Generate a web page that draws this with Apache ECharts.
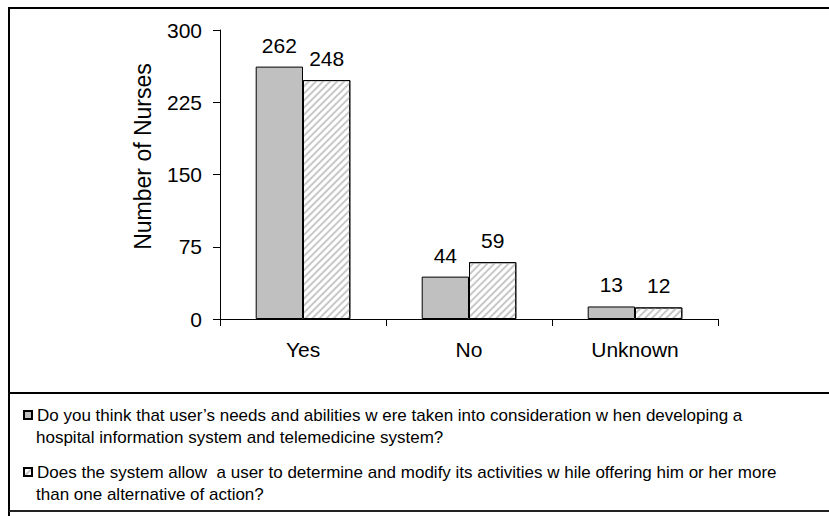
<!DOCTYPE html>
<html>
<head>
<meta charset="utf-8">
<script src="https://cdn.jsdelivr.net/npm/echarts@6/dist/echarts.min.js"></script>
<style>
html,body{margin:0;padding:0;background:#fff;}
#chart{width:829px;height:516px;}
</style>
</head>
<body>
<div id="chart"></div>
<script>
const categories = ['Yes', 'No', 'Unknown'];
const seriesNames = [
  'Do you think that user\u2019s needs and abilities w ere taken into consideration w hen developing a',
  'Does the system allow  a user to determine and modify its activities w hile offering him or her more'
];
const seriesNameContinuations = [
  'hospital information system and telemedicine system?',
  'than one alternative of action?'
];
const needsValues = [262, 44, 13];
const modifyValues = [248, 59, 12];
const yTicks = [0, 75, 150, 225, 300];

const chart = echarts.init(document.getElementById('chart'), null, {renderer: 'svg'});
const font = 'Liberation Sans, Arial, sans-serif';
const legendFontSize = 17;
const legendLeft = 18, legendPad = 5, iconW = 8;
const firstLineY = [415, 472];
const lineStep = 22;

const option = {
  animation: false,
  backgroundColor: '#fff',
  textStyle: {fontFamily: font, color: '#000'},
  grid: {left: 220, right: 111, top: 30, bottom: 197, containLabel: false},
  legend: {
    orient: 'vertical',
    left: legendLeft,
    top: firstLineY[0] - 10.5 - legendPad,
    padding: legendPad,
    itemWidth: iconW,
    itemHeight: 8,
    itemGap: (firstLineY[1] - firstLineY[0]) - 21,
    icon: 'rect',
    selectedMode: false,
    textStyle: {fontFamily: font, fontSize: legendFontSize, color: '#000', lineHeight: 21},
    data: seriesNames
  },
  xAxis: {
    type: 'category',
    data: categories,
    axisLine: {lineStyle: {color: '#000', width: 1}},
    axisTick: {show: true, length: 7, lineStyle: {color: '#000'}},
    axisLabel: {color: '#000', fontSize: 21, fontFamily: font, margin: 20}
  },
  yAxis: {
    type: 'value',
    min: yTicks[0],
    max: yTicks[yTicks.length - 1],
    interval: yTicks[1] - yTicks[0],
    name: 'Number of Nurses',
    nameLocation: 'middle',
    nameGap: 66,
    nameRotate: 90,
    nameTextStyle: {color: '#000', fontSize: 23, fontFamily: font, padding: [0, 0, 0, 36]},
    axisLine: {show: true, lineStyle: {color: '#000', width: 1}},
    axisTick: {show: true, length: 7, lineStyle: {color: '#000'}},
    axisLabel: {color: '#000', fontSize: 21, fontFamily: font, margin: 18},
    splitLine: {show: false}
  },
  series: [
    {
      name: seriesNames[0],
      type: 'bar',
      data: needsValues,
      barGap: '0%',
      barCategoryGap: '43%',
      itemStyle: {color: '#c0c0c0', borderColor: '#000', borderWidth: 1},
      label: {show: true, position: 'top', distance: 11, color: '#000', fontSize: 21, fontFamily: font}
    },
    {
      name: seriesNames[1],
      type: 'bar',
      data: modifyValues,
      barGap: '0%',
      barCategoryGap: '43%',
      itemStyle: {
        color: '#ffffff', borderColor: '#000', borderWidth: 1,
        decal: {symbol: 'rect', symbolSize: 1, dashArrayX: [1, 0], dashArrayY: [2, 3], rotation: -Math.PI / 4, color: '#c8c8c8'}
      },
      label: {show: true, position: 'top', distance: 11, color: '#000', fontSize: 21, fontFamily: font}
    }
  ],
  graphic: [
    {type: 'line', silent: true, z: 100, shape: {x1: 9, y1: 8, x2: 829, y2: 8}, style: {stroke: '#000', lineWidth: 2}},
    {type: 'line', silent: true, z: 100, shape: {x1: 9, y1: 7, x2: 9, y2: 516}, style: {stroke: '#000', lineWidth: 2}},
    {type: 'line', silent: true, z: 100, shape: {x1: 9, y1: 393, x2: 829, y2: 393}, style: {stroke: '#000', lineWidth: 2}},
    {type: 'line', silent: true, z: 100, shape: {x1: 9, y1: 511, x2: 829, y2: 511}, style: {stroke: '#222', lineWidth: 2}}
  ].concat(seriesNameContinuations.map(function (t, i) {
    return {
      type: 'text', silent: true, z: 100,
      x: legendLeft + legendPad + iconW + 5,
      y: firstLineY[i] + lineStep,
      style: {text: t, fontFamily: font, fontSize: legendFontSize, fill: '#000', verticalAlign: 'middle', align: 'left'}
    };
  }))
};
chart.setOption(option);
</script>
</body>
</html>
